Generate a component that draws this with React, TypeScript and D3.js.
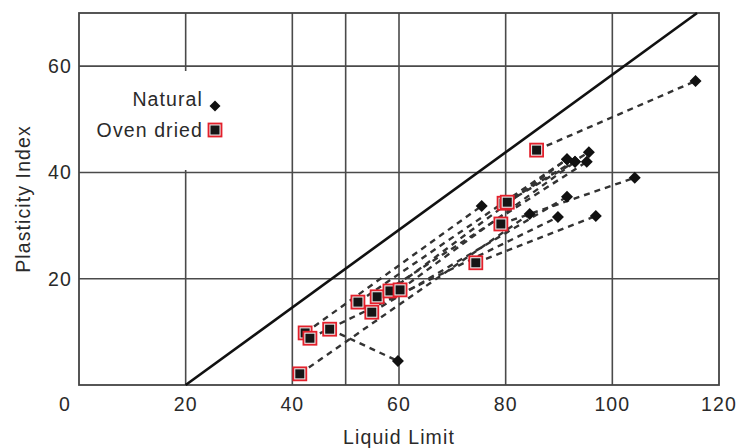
import React from "react";
import * as d3 from "d3";

// Oven dried (square) values, paired by index with natural (diamond) values
const ovenLL = [85.8, 79.7, 80.3, 79.1, 74.4, 42.4, 41.4, 47.0, 43.3, 52.3, 54.9, 55.9, 58.3, 60.2];
const ovenPI = [44.2, 34.2, 34.4, 30.3, 23.0, 9.8, 2.1, 10.5, 8.8, 15.6, 13.7, 16.6, 17.7, 17.9];
const naturalLL = [115.6, 95.6, 93.0, 104.2, 96.9, 75.5, 84.5, 59.8, 89.8, 91.5, 91.5, 95.2, 91.5, 93.0];
const naturalPI = [57.2, 43.8, 42.0, 39.0, 31.8, 33.7, 32.2, 4.5, 31.6, 42.5, 35.4, 42.0, 42.5, 42.0];

const xTicks = [20, 40, 60, 80, 100, 120];
const yTicks = [20, 40, 60];
const xGrid = [20, 40, 50, 60, 80, 100];
const aLineLL = [20, 20 + 70 / 0.73];

const W = 738;
const H = 448;
const FONT = "'Liberation Sans', Arial, Helvetica, sans-serif";

export default function App() {
  const x = d3.scaleLinear().domain([0, 120]).range([79, 719]);
  const y = d3.scaleLinear().domain([0, 70]).range([385, 13]);
  const grid = "#4a4a4a";
  const textStyle = { fontFamily: FONT, fontSize: 19.5, letterSpacing: 1.1, fill: "#2a2a2a" } as const;
  const line = d3.line<number>().x((d) => x(d)).y((d) => y(0.73 * (d - 20)));

  return (
    <div style={{ position: "absolute", left: 0, top: 0 }}>
      <svg width={W} height={H} style={{ display: "block", background: "#fff" }}>
        {/* grid */}
        {xGrid.map((v) =>
          v === 20 ? (
            <g key={v}>
              <line x1={x(v)} x2={x(v)} y1={y(70)} y2={71} stroke={grid} strokeWidth={1.6} />
              <line x1={x(v)} x2={x(v)} y1={170} y2={y(0)} stroke={grid} strokeWidth={1.6} />
            </g>
          ) : (
            <line key={v} x1={x(v)} x2={x(v)} y1={y(70)} y2={y(0)} stroke={grid} strokeWidth={1.6} />
          )
        )}
        {yTicks.map((v) => (
          <line key={v} x1={x(0)} x2={x(120)} y1={y(v)} y2={y(v)} stroke={grid} strokeWidth={1.6} />
        ))}
        {/* frame */}
        <rect x={x(0)} y={y(70)} width={x(120) - x(0)} height={y(0) - y(70)} fill="none" stroke="#444" strokeWidth={1.8} />

        {/* A-line */}
        <path d={line(aLineLL) || ""} stroke="#111" strokeWidth={2.6} fill="none" />

        {/* dashed pair connectors */}
        {ovenLL.map((v, i) => (
          <line
            key={"d" + i}
            x1={x(v)}
            y1={y(ovenPI[i])}
            x2={x(naturalLL[i])}
            y2={y(naturalPI[i])}
            stroke="#333"
            strokeWidth={2.4}
            strokeDasharray="6,5"
          />
        ))}

        {/* natural diamonds */}
        {naturalLL.map((v, i) => (
          <path
            key={"n" + i}
            transform={`translate(${x(v)},${y(naturalPI[i])})`}
            d="M0,-6L6,0L0,6L-6,0Z"
            fill="#111"
          />
        ))}

        {/* oven dried squares */}
        {ovenLL.map((v, i) => (
          <g key={"o" + i} transform={`translate(${x(v)},${y(ovenPI[i])})`}>
            <rect x={-6.5} y={-6.5} width={13} height={13} fill="#e6e6e6" stroke="#e3202b" strokeWidth={1.8} />
            <rect x={-4.5} y={-4.5} width={9} height={9} fill="#151515" />
          </g>
        ))}

        {/* tick labels */}
        {yTicks.map((v) => (
          <text key={"yt" + v} x={72} y={y(v)} dy="0.36em" textAnchor="end" style={textStyle}>
            {v}
          </text>
        ))}
        <text x={65} y={411} textAnchor="middle" style={textStyle}>0</text>
        {xTicks.map((v) => (
          <text key={"xt" + v} x={x(v)} y={411} textAnchor="middle" style={textStyle}>
            {v}
          </text>
        ))}

        {/* axis titles */}
        <text x={399} y={444} textAnchor="middle" style={textStyle}>Liquid Limit</text>
        <text transform="translate(30,199) rotate(-90)" textAnchor="middle" style={textStyle}>
          Plasticity Index
        </text>

        {/* legend */}
        <text x={203} y={106} textAnchor="end" style={textStyle}>Natural</text>
        <path transform="translate(215,106)" d="M0,-5.5L5.5,0L0,5.5L-5.5,0Z" fill="#111" />
        <text x={203} y={137} textAnchor="end" style={textStyle}>Oven dried</text>
        <g transform="translate(215,130)">
          <rect x={-6.5} y={-6.5} width={13} height={13} fill="#e6e6e6" stroke="#e3202b" strokeWidth={1.8} />
          <rect x={-4.5} y={-4.5} width={9} height={9} fill="#151515" />
        </g>
      </svg>
    </div>
  );
}
